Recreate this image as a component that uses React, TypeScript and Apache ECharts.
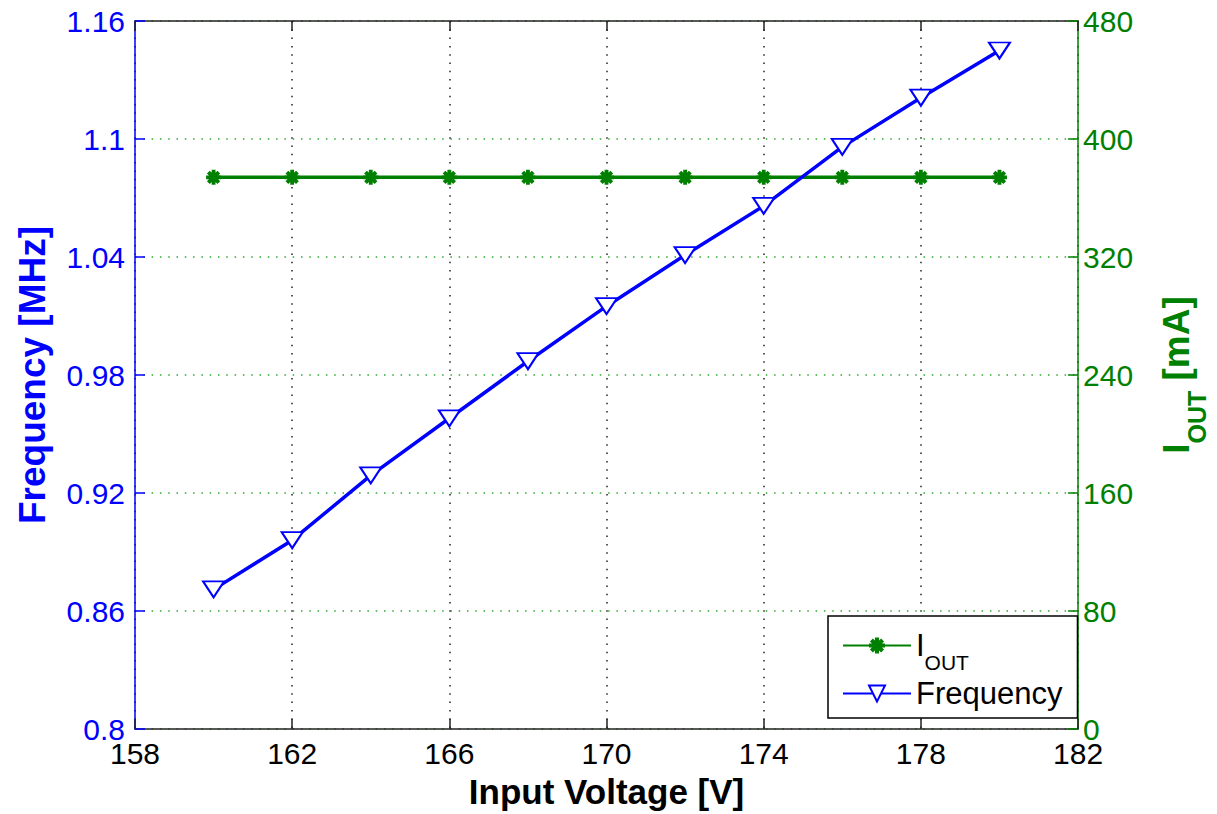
import React, { useEffect, useRef } from "react";
import * as echarts from "echarts";

// ---- data ----
const inputVoltage = [160, 162, 164, 166, 168, 170, 172, 174, 176, 178, 180];
const frequencyMHz = [0.871, 0.896, 0.929, 0.958, 0.987, 1.015, 1.041, 1.066, 1.096, 1.121, 1.145];
const ioutMA = [374, 374, 374, 374, 374, 374, 374, 374, 374, 374, 374];

const xTicks = { min: 158, max: 182, interval: 4 };
const freqTicks = { min: 0.8, max: 1.16, interval: 0.06 };
const ioutTicks = { min: 0, max: 480, interval: 80 };

const BLUE = "#0000ff";
const GREEN = "#008000";
const FONT = "'Liberation Sans', Arial, sans-serif";

const ASTERISK =
  "path://M-1.8 -7 L1.8 -7 L1.8 -1.8 L7 -1.8 L7 1.8 L1.8 1.8 L1.8 7 L-1.8 7 L-1.8 1.8 L-7 1.8 L-7 -1.8 L-1.8 -1.8 Z " +
  "M-6.2 -3.6 L-3.6 -6.2 L6.2 3.6 L3.6 6.2 Z M3.6 -6.2 L6.2 -3.6 L-3.6 6.2 L-6.2 3.6 Z";

export default function App() {
  const ref = useRef<HTMLDivElement>(null);

  useEffect(() => {
    if (!ref.current) return;
    const chart = echarts.init(ref.current, undefined, { renderer: "svg" });

    const freqData = inputVoltage.map((v, i) => [v, frequencyMHz[i]]);
    const ioutData = inputVoltage.map((v, i) => [v, ioutMA[i]]);

    chart.setOption({
      animation: false,
      backgroundColor: "#fff",
      textStyle: { fontFamily: FONT },
      grid: { left: 135, right: 130, top: 21, bottom: 85, containLabel: false },
      legend: {
        orient: "vertical",
        left: 828,
        top: 616,
        backgroundColor: "#fff",
        borderColor: "#000",
        borderWidth: 1.5,
        borderRadius: 0,
        padding: [2, 15, 9, 14],
        itemGap: 5,
        itemWidth: 68,
        itemHeight: 20,
        data: ["IOUT", "Frequency"],
        formatter: (name: string) => (name === "IOUT" ? "{a|I}{b|OUT}" : "{a|Frequency}"),
        textStyle: {
          fontFamily: FONT,
          color: "#000",
          fontSize: 31,
          rich: {
            a: { fontSize: 31, lineHeight: 34, color: "#000", fontFamily: FONT },
            b: { fontSize: 21, lineHeight: 22, padding: [34, 0, 0, 0], color: "#000", fontFamily: FONT },
          },
        },
      },
      xAxis: [
        {
          type: "value",
          position: "bottom",
          min: xTicks.min,
          max: xTicks.max,
          interval: xTicks.interval,
          name: "Input Voltage [V]",
          nameLocation: "middle",
          nameGap: 45,
          nameTextStyle: { fontSize: 35, fontWeight: "bold", color: "#000", fontFamily: FONT },
          axisLine: { show: true, lineStyle: { color: "#222", width: 1.5 } },
          axisTick: { show: true, inside: true, length: 10, lineStyle: { color: "#222", width: 1.5 } },
          axisLabel: { fontSize: 30, color: "#000", margin: 9, fontFamily: FONT },
          splitLine: { show: true, lineStyle: { color: "#222", width: 1.5, type: [1.5, 6.8] } },
        },
        {
          type: "value",
          position: "top",
          min: xTicks.min,
          max: xTicks.max,
          interval: xTicks.interval,
          axisLine: { show: true, lineStyle: { color: "#222", width: 1.5 } },
          axisTick: { show: true, inside: true, length: 10, lineStyle: { color: "#222", width: 1.5 } },
          axisLabel: { show: false },
          splitLine: { show: false },
        },
      ],
      yAxis: [
        {
          type: "value",
          position: "left",
          min: freqTicks.min,
          max: freqTicks.max,
          interval: freqTicks.interval,
          name: "Frequency [MHz]",
          nameLocation: "middle",
          nameGap: 84,
          nameTextStyle: { fontSize: 37, fontWeight: "bold", color: BLUE, fontFamily: FONT },
          axisLine: { show: true, lineStyle: { color: BLUE, width: 1.5 } },
          axisTick: { show: true, inside: true, length: 10, lineStyle: { color: BLUE, width: 1.5 } },
          axisLabel: { fontSize: 30, color: BLUE, margin: 10, fontFamily: FONT },
          splitLine: { show: true, lineStyle: { color: "#2ea82e", width: 1.5, type: [1.5, 6.8] } },
        },
        {
          type: "value",
          position: "right",
          min: ioutTicks.min,
          max: ioutTicks.max,
          interval: ioutTicks.interval,
          name: "{a|I}{b|OUT}{a| [mA]}",
          nameLocation: "middle",
          nameGap: 52,
          nameRotate: 90,
          nameTextStyle: {
            fontSize: 37,
            fontWeight: "bold",
            color: GREEN,
            fontFamily: FONT,
            rich: {
              a: { fontSize: 37, lineHeight: 42, fontWeight: "bold", color: GREEN, fontFamily: FONT },
              b: { fontSize: 25, lineHeight: 26, padding: [40, 0, 0, 0], fontWeight: "bold", color: GREEN, fontFamily: FONT },
            },
          },
          axisLine: { show: true, lineStyle: { color: GREEN, width: 1.5 } },
          axisTick: { show: true, inside: true, length: 10, lineStyle: { color: GREEN, width: 1.5 } },
          axisLabel: { fontSize: 30, color: GREEN, margin: 5, fontFamily: FONT },
          splitLine: { show: false },
        },
      ],
      series: [
        {
          name: "IOUT",
          type: "line",
          xAxisIndex: 0,
          yAxisIndex: 1,
          data: ioutData,
          symbol: ASTERISK,
          symbolSize: 15,
          showAllSymbol: true,
          lineStyle: { color: GREEN, width: 3.5 },
          itemStyle: { color: GREEN },
          z: 2,
        },
        {
          name: "Frequency",
          type: "line",
          xAxisIndex: 0,
          yAxisIndex: 0,
          data: freqData,
          symbol: "emptyTriangle",
          symbolRotate: 180,
          symbolSize: [21, 16],
          showAllSymbol: true,
          lineStyle: { color: BLUE, width: 3.5 },
          itemStyle: { color: BLUE, borderColor: BLUE, borderWidth: 3 },
          z: 3,
        },
      ],
    });

    return () => chart.dispose();
  }, []);

  return (
    <div
      ref={ref}
      style={{ position: "fixed", left: 0, top: 0, width: 1217, height: 814, background: "#fff" }}
    />
  );
}
